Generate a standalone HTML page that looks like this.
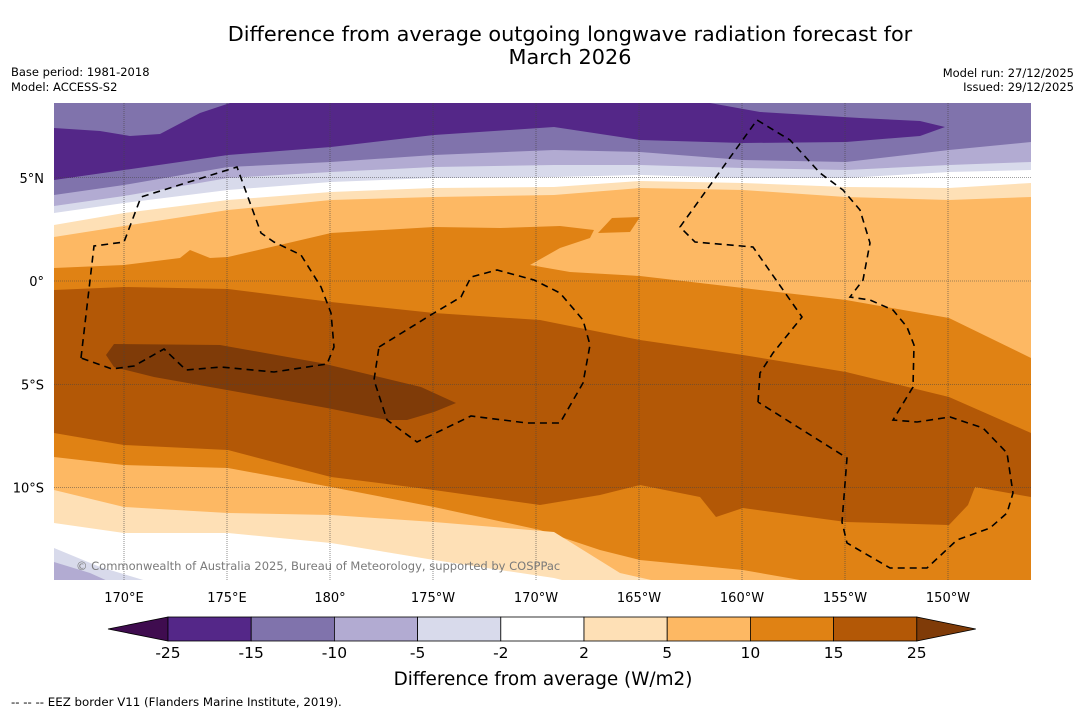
<!DOCTYPE html>
<html><head><meta charset="utf-8"><style>
body{margin:0;background:#fff;width:1085px;height:713px;overflow:hidden;font-family:"DejaVu Sans","Liberation Sans",sans-serif;}
svg{position:absolute;left:0;top:0}
</style></head><body>
<svg id="s" width="1085" height="713" xmlns="http://www.w3.org/2000/svg" font-family="DejaVu Sans, Liberation Sans, sans-serif">
<defs><clipPath id="mc"><rect x="54" y="103" width="977" height="477"/></clipPath></defs>
<g id="map" clip-path="url(#mc)"></g>
<g id="grid"></g>
<g id="eez" fill="none" stroke="#000" stroke-width="1.6" stroke-dasharray="7,5"></g>
<text x="76" y="570" font-size="11.5" fill="#7a7a7a">© Commonwealth of Australia 2025, Bureau of Meteorology, supported by COSPPac</text>
<text x="570" y="41" font-size="20.8" text-anchor="middle" fill="#000">Difference from average outgoing longwave radiation forecast for</text>
<text x="570" y="64" font-size="20.8" text-anchor="middle" fill="#000">March 2026</text>
<text x="11" y="76" font-size="11.5">Base period: 1981-2018</text>
<text x="11" y="91" font-size="11.5">Model: ACCESS-S2</text>
<text x="1074" y="77" font-size="11.5" text-anchor="end">Model run: 27/12/2025</text>
<text x="1074" y="91" font-size="11.5" text-anchor="end">Issued: 29/12/2025</text>
<g id="axes" font-size="13"></g>
<g id="cbar"></g>
<text x="543" y="685" font-size="18.4" text-anchor="middle">Difference from average (W/m2)</text>
<text x="11" y="706" font-size="11.8">--  --  -- EEZ border V11 (Flanders Marine Institute, 2019).</text>
</svg>
<script>
const NS="http://www.w3.org/2000/svg";
// colorbar data
const cbLevels=[-25,-15,-10,-5,-2,2,5,10,15,25];
const cbColors=["#542788","#8073ac","#b2abd2","#d8daeb","#ffffff","#fee0b6","#fdb863","#e08214","#b35806"];
const cbUnder="#3f0c4f", cbOver="#7f3b08";
const lonTicks=["170°E","175°E","180°","175°W","170°W","165°W","160°W","155°W","150°W"];
const lonVals=[170,175,180,185,190,195,200,205,210];
const latTicks=["5°N","0°","5°S","10°S"];
const latVals=[5,0,-5,-10];
// map projection (approx)
const X=lon=>124+(lon-170)*20.6, Y=lat=>281-lat*20.65;
function el(tag,attrs,parent){const e=document.createElementNS(NS,tag);for(const k in attrs)e.setAttribute(k,attrs[k]);parent.appendChild(e);return e;}
const map=document.getElementById('map');
const P=pts=>pts.map(p=>p.join(',')).join(' ');
function below(pts,color,name){const a=pts.concat([[pts[pts.length-1][0],600],[pts[0][0],600]]);const e=el('polygon',{points:P(a),fill:color},map);

}
function poly(pts,color,name){const e=el('polygon',{points:P(pts),fill:color},map);

}
const base=el('rect',{x:54,y:103,width:977,height:477,fill:"#8073ac"},map);


poly([[54,128],[100,131],[130,136],[160,134],[200,113],[230,103],[710,103],[760,112],[860,118],[920,121],[945,127],[920,136],[846,142],[743,143],[640,140],[554,127],[434,135],[331,147],[228,155],[124,170],[54,180]],"#542788","band-minus25");
below([[54,195],[124,185],[228,167],[331,162],[434,155],[554,150],[640,152],[743,160],[846,162],[949,150],[1031,142]],"#b2abd2","band-minus10");
below([[54,206],[124,196],[228,178],[331,172],[434,167],[554,165],[640,165],[743,168],[846,170],[949,165],[1031,162]],"#d8daeb","band-minus5");
below([[54,213],[124,203],[228,190],[331,182],[434,178],[554,177],[640,175],[743,178],[846,178],[949,172],[1031,170]],"#ffffff","band-minus2");
below([[54,225],[124,213],[228,200],[331,192],[434,188],[554,187],[640,181],[743,183],[846,187],[949,188],[1031,183]],"#fee0b6","band-plus2");
below([[54,237],[124,226],[228,210],[331,200],[434,197],[554,195],[640,188],[743,190],[846,197],[949,200],[1031,197]],"#fdb863","band-plus5");
below([[54,268],[124,265],[180,258],[190,250],[210,258],[228,257],[331,233],[434,227],[500,228],[560,226],[594,230],[590,238],[560,248],[530,265],[570,272],[640,276],[743,288],[846,300],[949,318],[1031,358]],"#e08214","band-plus10");
poly([[598,233],[612,218],[640,217],[630,232]],"#e08214","blob-plus10");
below([[54,290],[124,287],[228,289],[331,302],[434,313],[540,320],[640,340],[743,355],[846,372],[949,397],[1031,433]],"#b35806","band-plus15");
below([[54,433],[124,445],[228,450],[331,477],[434,490],[540,505],[600,495],[640,485],[700,497],[716,517],[743,508],[846,522],[949,525],[968,505],[975,487],[1031,497]],"#e08214","band-plus10-south");
below([[54,457],[124,465],[228,468],[331,487],[434,507],[540,530],[600,550],[640,560],[743,570],[800,580]],"#fdb863","band-plus5-south");
below([[54,490],[124,507],[228,513],[331,515],[434,522],[554,532],[620,573],[660,582]],"#fee0b6","band-plus2-south");
below([[54,523],[124,533],[228,533],[331,543],[434,560],[500,570],[554,578],[570,582]],"#ffffff","band-minus2-south");
below([[54,548],[100,567],[150,582]],"#d8daeb","band-minus5-south");
below([[54,562],[90,573],[110,582]],"#b2abd2","band-minus10-south");
poly([[114,344],[220,345],[321,363],[421,387],[456,403],[434,412],[407,420],[387,420],[327,408],[227,390],[154,377],[114,367],[106,355]],"#7f3b08","band-plus25");
// graticule
const grid=document.getElementById('grid');
lonVals.forEach((v,i)=>{const l=el('line',{x1:X(v),x2:X(v),y1:103,y2:580,stroke:"#444","stroke-width":0.6,"stroke-dasharray":"1,1"},grid);

});
latVals.forEach((v,i)=>{const l=el('line',{x1:54,x2:1031,y1:Y(v),y2:Y(v),stroke:"#444","stroke-width":0.6,"stroke-dasharray":"1,1"},grid);

});
// EEZ
const eez=document.getElementById('eez');
const eezPaths=[
[[81,358],[94,246],[124,242],[141,197],[237,167],[261,233],[274,242],[301,255],[321,287],[331,313],[334,347],[327,364],[274,372],[221,367],[186,370],[164,349],[134,366],[112,369],[81,358]],
[[379,347],[434,313],[461,297],[471,277],[497,270],[534,280],[560,293],[583,320],[590,345],[583,383],[560,423],[527,423],[471,416],[417,442],[387,420],[374,380],[379,347]],
[[758,402],[760,373],[773,353],[802,317],[753,247],[695,242],[680,227],[757,120],[790,140],[820,173],[843,190],[860,210],[870,243],[863,280],[850,297],[870,300],[893,310],[907,327],[914,345],[913,387],[893,420],[917,422],[950,417],[983,428],[1007,453],[1013,493],[1007,513],[990,528],[957,540],[927,568],[890,568],[847,543],[842,522],[847,458],[758,402]]];
eezPaths.forEach((p,i)=>{const e=el('polyline',{points:P(p)},eez);

});
// axis labels
const ax=document.getElementById('axes');
lonTicks.forEach((t,i)=>{const e=el('text',{x:X(lonVals[i]),y:602,"text-anchor":"middle"},ax);e.textContent=t;

});
latTicks.forEach((t,i)=>{const e=el('text',{x:44,y:Y(latVals[i])+5,"text-anchor":"end"},ax);e.textContent=t;

});
// colorbar
const cb=document.getElementById('cbar');
const cx0=168,cw=83.2,cy=617,ch=24;
const u=el('polygon',{points:`${cx0},${cy} ${cx0},${cy+ch} 108,${cy+ch/2}`,fill:cbUnder,stroke:"#000","stroke-width":0.8},cb);


cbColors.forEach((c,i)=>{const r=el('rect',{x:cx0+i*cw,y:cy,width:cw,height:ch,fill:c,stroke:"#000","stroke-width":0.8},cb);

});
const xe=cx0+cbColors.length*cw;
const o=el('polygon',{points:`${xe},${cy} ${xe},${cy+ch} ${xe+59},${cy+ch/2}`,fill:cbOver,stroke:"#000","stroke-width":0.8},cb);


cbLevels.forEach((v,i)=>{const t=el('text',{x:cx0+i*cw,y:658,"font-size":15.5,"text-anchor":"middle"},cb);t.textContent=v;

});
</script>
</body></html>
